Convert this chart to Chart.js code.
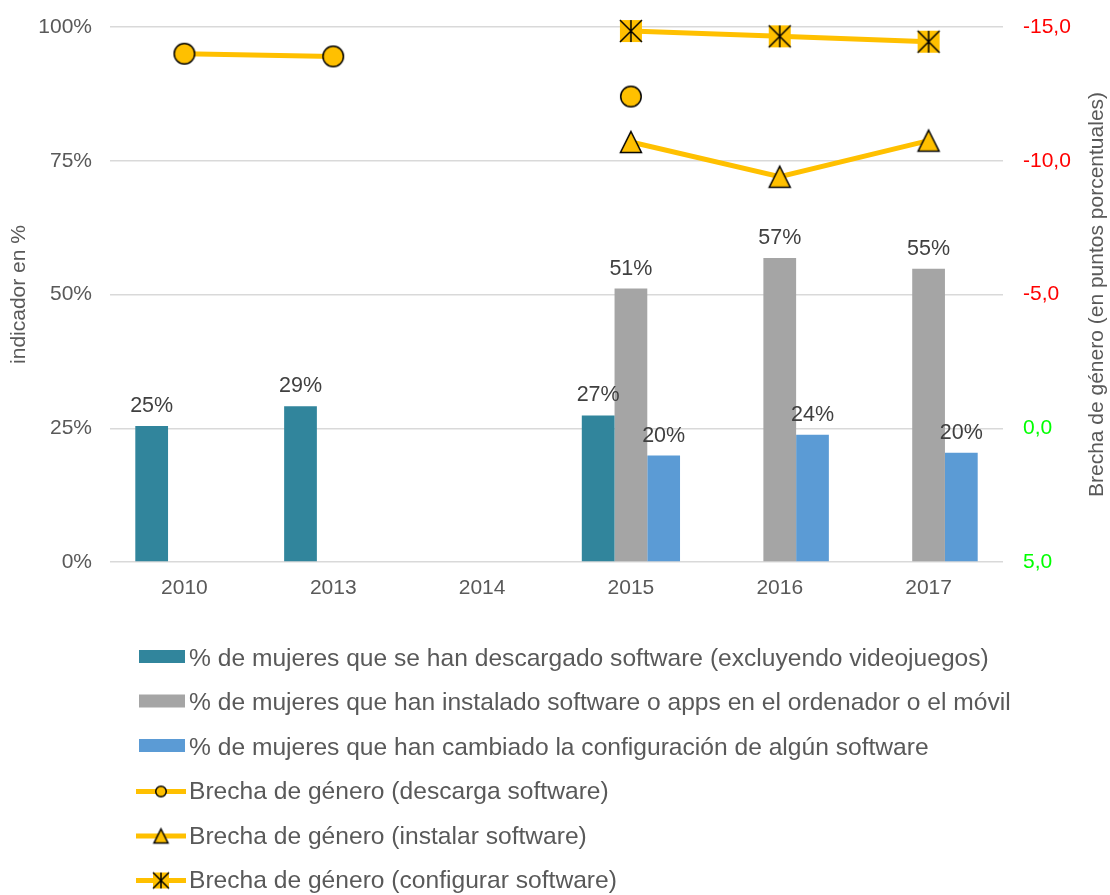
<!DOCTYPE html>
<html>
<head>
<meta charset="utf-8">
<script src="https://cdn.jsdelivr.net/npm/chart.js@4.4.1/dist/chart.umd.min.js"></script>
<style>
  html, body { margin: 0; padding: 0; background: #fff; }
</style>
</head>
<body>
<canvas id="brechaChart" width="1110" height="895"></canvas>
<script>
// años del eje X
const years = ['2010', '2013', '2014', '2015', '2016', '2017'];

// indicadores (% de mujeres), eje izquierdo
const descargado = [25.4, 29.1, null, 27.4, null, null];
const instalado = [null, null, null, 51.1, 56.8, 54.8];
const configurado = [null, null, null, 19.9, 23.8, 20.4];

// brecha de género (puntos porcentuales), eje derecho
const brechaDescarga = [-14.0, -13.9, null, -12.4, null, null];
const brechaInstalar = [null, null, null, -10.7, -9.4, -10.75];
const brechaConfigurar = [null, null, null, -14.85, -14.65, -14.45];

const leftTicks = [0, 25, 50, 75, 100];
const rightTicks = [-15, -10, -5, 0, 5];

const textGray = '#595959';
const gold = '#FFC000';
const fontFamily = "'Liberation Sans', Arial, sans-serif";

Chart.defaults.font.family = fontFamily;
Chart.defaults.color = textGray;

// marcadores tipo Excel
function makeMarker(kind, size) {
  const pad = 2;
  const c = document.createElement('canvas');
  c.width = size + pad * 2;
  c.height = size + pad * 2;
  const ctx = c.getContext('2d');
  const s = size, o = pad;
  ctx.fillStyle = gold;
  ctx.strokeStyle = '#000';
  ctx.lineWidth = 1.5;
  if (kind === 'circle') {
    ctx.beginPath();
    ctx.arc(o + s / 2, o + s / 2, s / 2 - 0.75, 0, Math.PI * 2);
    ctx.fill();
    ctx.stroke();
  } else if (kind === 'triangle') {
    ctx.beginPath();
    ctx.moveTo(o + s / 2, o + 0.5);
    ctx.lineTo(o + s - 0.5, o + s - 0.5);
    ctx.lineTo(o + 0.5, o + s - 0.5);
    ctx.closePath();
    ctx.fill();
    ctx.stroke();
  } else {
    ctx.fillRect(o, o, s, s);
    ctx.beginPath();
    ctx.moveTo(o, o); ctx.lineTo(o + s, o + s);
    ctx.moveTo(o + s, o); ctx.lineTo(o, o + s);
    ctx.moveTo(o + s / 2, o); ctx.lineTo(o + s / 2, o + s);
    ctx.stroke();
  }
  return c;
}

// etiquetas de las barras
const barLabels = {
  id: 'barLabels',
  afterDatasetsDraw(chart) {
    const ctx = chart.ctx;
    ctx.save();
    ctx.font = '21.5px ' + fontFamily;
    ctx.fillStyle = '#404040';
    ctx.textAlign = 'center';
    ctx.textBaseline = 'alphabetic';
    chart.data.datasets.forEach((ds, i) => {
      if (ds.type !== 'bar') return;
      chart.getDatasetMeta(i).data.forEach((bar, j) => {
        const v = ds.data[j];
        if (v === null) return;
        ctx.fillText(Math.round(v) + '%', bar.x, bar.y - 14);
      });
    });
    ctx.restore();
  }
};

// títulos de ejes y leyenda en columna
const extras = {
  id: 'extras',
  afterDraw(chart) {
    const ctx = chart.ctx;
    const area = chart.chartArea;
    const midY = (area.top + area.bottom) / 2;
    ctx.save();
    ctx.fillStyle = textGray;
    ctx.font = '21px ' + fontFamily;
    ctx.textAlign = 'center';
    ctx.textBaseline = 'middle';
    [[19, 'indicador en %'], [1097, 'Brecha de género (en puntos porcentuales)']].forEach(([x, t]) => {
      ctx.save();
      ctx.translate(x, midY);
      ctx.rotate(-Math.PI / 2);
      ctx.fillText(t, 0, 0);
      ctx.restore();
    });

    ctx.font = '24.6px ' + fontFamily;
    ctx.textAlign = 'left';
    chart.data.datasets.forEach((ds, i) => {
      const y = 659 + i * 44.5;
      if (ds.type === 'bar') {
        ctx.fillStyle = ds.backgroundColor;
        ctx.fillRect(139, y - 9, 46, 13);
      } else {
        ctx.strokeStyle = ds.borderColor;
        ctx.lineWidth = 5;
        ctx.beginPath();
        ctx.moveTo(136, y - 1);
        ctx.lineTo(186, y - 1);
        ctx.stroke();
        const m = ds.legendMarker;
        ctx.drawImage(m, 161 - m.width / 2, y - 1 - m.height / 2);
      }
      ctx.fillStyle = textGray;
      ctx.fillText(ds.label, 189, y);
    });
    ctx.restore();
  }
};

function lineSet(label, data, kind, legendSize) {
  return {
    type: 'line',
    label: label,
    data: data,
    yAxisID: 'y1',
    order: 0,
    borderColor: gold,
    backgroundColor: gold,
    borderWidth: 5,
    pointStyle: makeMarker(kind, 22),
    legendMarker: makeMarker(kind, legendSize),
    spanGaps: false,
    clip: false,
    tension: 0
  };
}

const data = {
  labels: years,
  datasets: [
    { type: 'bar', label: '% de mujeres que se han descargado software (excluyendo videojuegos)', data: descargado, backgroundColor: '#31859C', yAxisID: 'y', order: 1 },
    { type: 'bar', label: '% de mujeres que han instalado software o apps en el ordenador o el móvil', data: instalado, backgroundColor: '#A5A5A5', yAxisID: 'y', order: 1 },
    { type: 'bar', label: '% de mujeres que han cambiado la configuración de algún software', data: configurado, backgroundColor: '#5B9BD5', yAxisID: 'y', order: 1 },
    lineSet('Brecha de género (descarga software)', brechaDescarga, 'circle', 12),
    lineSet('Brecha de género (instalar software)', brechaInstalar, 'triangle', 15),
    lineSet('Brecha de género (configurar software)', brechaConfigurar, 'star', 16)
  ]
};

const config = {
  type: 'bar',
  data: data,
  options: {
    responsive: false,
    animation: false,
    categoryPercentage: 0.66,
    barPercentage: 1.0,
    layout: { padding: { top: 27, bottom: 293, left: 0, right: 0 } },
    plugins: {
      legend: { display: false },
      tooltip: { enabled: false }
    },
    scales: {
      x: {
        grid: { display: false, drawTicks: false },
        border: { display: false },
        ticks: { font: { size: 21 }, color: textGray, padding: 14 },
        afterFit(scale) { scale.height = 40; }
      },
      y: {
        position: 'left',
        min: leftTicks[0],
        max: leftTicks[leftTicks.length - 1],
        afterBuildTicks(scale) { scale.ticks = leftTicks.map(v => ({ value: v })); },
        ticks: { callback: v => v + '%', font: { size: 21 }, color: textGray, padding: 2 },
        grid: { color: '#D9D9D9', lineWidth: 1.5, drawTicks: true, tickLength: 16, tickColor: 'rgba(0,0,0,0)' },
        border: { display: false },
        afterFit(scale) { scale.width = 110; }
      },
      y1: {
        position: 'right',
        min: rightTicks[0],
        max: rightTicks[rightTicks.length - 1],
        reverse: true,
        afterBuildTicks(scale) { scale.ticks = rightTicks.map(v => ({ value: v })); },
        ticks: {
          callback: v => v.toFixed(1).replace('.', ','),
          color: c => c.tick.value < 0 ? '#FF0000' : '#00FF00',
          font: { size: 21 },
          padding: 2
        },
        grid: { display: false, drawTicks: true, tickLength: 18 },
        border: { display: false },
        afterFit(scale) { scale.width = 107; }
      }
    }
  },
  plugins: [barLabels, extras]
};

const brechaChart = new Chart(document.getElementById('brechaChart'), config);
</script>
</body>
</html>
